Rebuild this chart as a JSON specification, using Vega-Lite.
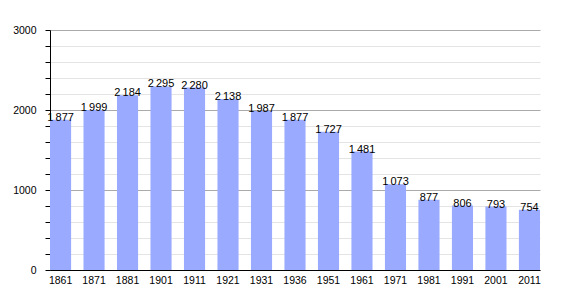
{
  "$schema": "https://vega.github.io/schema/vega-lite/v6.json",
  "width": 490,
  "height": 240,
  "autosize": {"type": "none"},
  "padding": {"left": 50, "top": 30, "right": 30, "bottom": 30},
  "background": "white",
  "config": {
    "view": {"stroke": null},
    "font": "Liberation Sans",
    "locale": {"number": {"decimal": ",", "thousands": "\u2009", "grouping": [3], "currency": ["", " €"]}}
  },
  "data": {"values": [
    {"year": "1861", "pop": 1877},
    {"year": "1871", "pop": 1999},
    {"year": "1881", "pop": 2184},
    {"year": "1901", "pop": 2295},
    {"year": "1911", "pop": 2280},
    {"year": "1921", "pop": 2138},
    {"year": "1931", "pop": 1987},
    {"year": "1936", "pop": 1877},
    {"year": "1951", "pop": 1727},
    {"year": "1961", "pop": 1481},
    {"year": "1971", "pop": 1073},
    {"year": "1981", "pop": 877},
    {"year": "1991", "pop": 806},
    {"year": "2001", "pop": 793},
    {"year": "2011", "pop": 754}
  ]},
  "encoding": {
    "x": {
      "field": "year", "type": "ordinal", "sort": null,
      "scale": {"paddingInner": 0.37, "paddingOuter": 0},
      "axis": {"title": null, "labelAngle": 0, "ticks": false, "domainColor": "black", "labelFontSize": 10.5, "labelColor": "black", "labelPadding": 5}
    },
    "y": {
      "field": "pop", "type": "quantitative",
      "scale": {"domain": [0, 3000], "nice": false},
      "axis": {
        "title": null,
        "values": [0, 200, 400, 600, 800, 1000, 1200, 1400, 1600, 1800, 2000, 2200, 2400, 2600, 2800, 3000],
        "format": "d",
        "labelExpr": "datum.value % 1000 === 0 ? datum.value : ''",
        "grid": true,
        "gridColor": {"condition": {"test": "datum.value % 1000 === 0", "value": "#aaaaaa"}, "value": "#e4e4e4"},
        "tickColor": "black",
        "tickSize": 5,
        "domainColor": "black",
        "labelFontSize": 10.5,
        "labelColor": "black",
        "labelPadding": 9
      }
    }
  },
  "layer": [
    {"mark": {"type": "bar", "color": "#99aaff"}},
    {
      "mark": {"type": "text", "baseline": "alphabetic", "dy": 1, "fontSize": 11, "color": "black"},
      "encoding": {"text": {"field": "pop", "type": "quantitative", "format": ",d"}}
    }
  ]
}
